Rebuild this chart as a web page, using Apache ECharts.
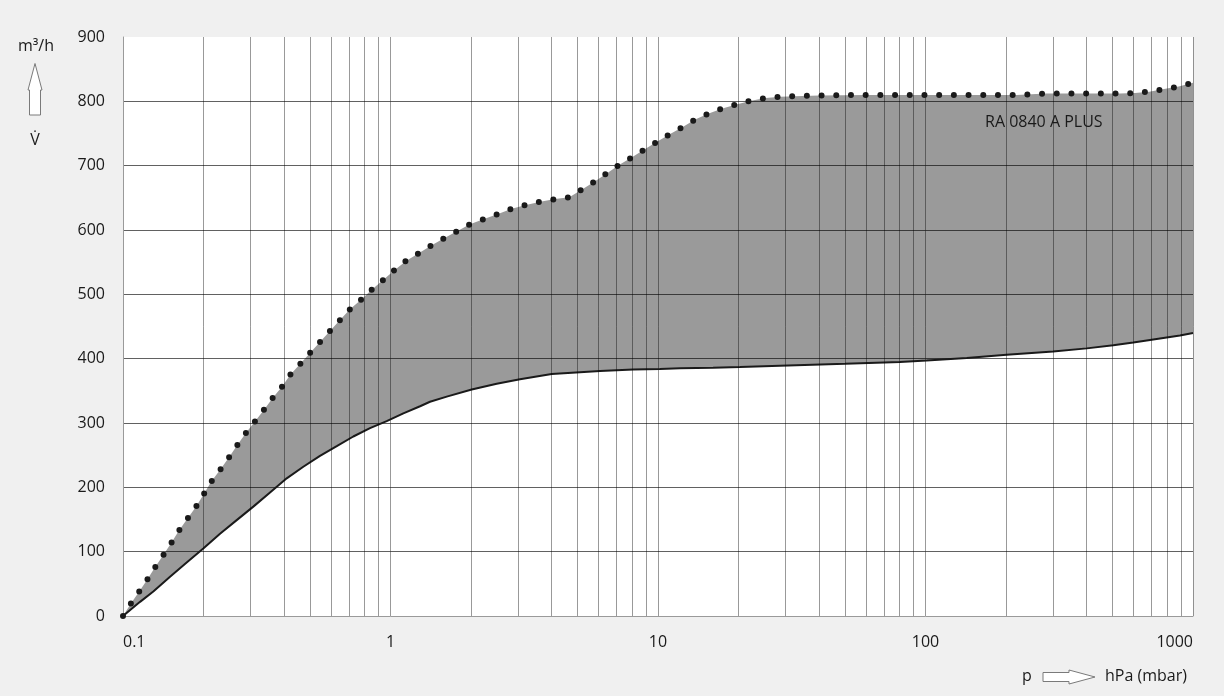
<!DOCTYPE html>
<html>
<head>
<meta charset="utf-8">
<script src="https://cdn.jsdelivr.net/npm/echarts@6/dist/echarts.min.js"></script>
<style>
html,body{margin:0;padding:0;background:#f0f0f0;}
#c{width:1224px;height:696px;}
</style>
</head>
<body>
<div id="c"></div>
<script>
// ---- data ----
const upperX = [0.1, 0.1069, 0.1145, 0.1226, 0.1314, 0.1411, 0.1512, 0.162, 0.174, 0.1875, 0.2008, 0.2139, 0.2305, 0.2484, 0.2668, 0.2875, 0.3107, 0.3357, 0.3627, 0.3921, 0.4221, 0.4601, 0.5003, 0.545, 0.594, 0.6476, 0.7058, 0.7738, 0.855, 0.943, 1.037, 1.143, 1.275, 1.421, 1.585, 1.773, 1.982, 2.236, 2.523, 2.839, 3.21, 3.631, 4.121, 4.661, 5.199, 5.781, 6.43, 7.149, 7.995, 8.889, 9.915, 11.06, 12.37, 13.83, 15.47, 17.4, 19.62, 22.27, 25.27, 28.66, 32.52, 40, 60, 90, 150, 219, 249, 282, 533, 607, 686, 779, 884, 1000];
const upperY = [0, 19, 37, 55, 75, 94, 113, 133, 151, 170, 190, 209, 227, 246, 265, 284, 302, 320, 339, 356, 375, 392, 409, 426, 443, 460, 477, 491, 508, 523, 538, 552, 564, 576, 587, 598, 609, 617, 625, 633, 639, 644, 648, 651, 663, 675, 688, 701, 713, 725, 737, 749, 760, 772, 781, 789, 795, 801, 805, 807, 808, 809, 810, 810, 810, 810, 811, 812, 812, 813, 815, 819, 823, 829];
const lowerX = [0.1, 0.1158, 0.1298, 0.1499, 0.173, 0.1996, 0.2305, 0.2661, 0.307, 0.3545, 0.4093, 0.4721, 0.545, 0.6297, 0.7261, 0.8383, 0.9679, 1.117, 1.29, 1.405, 1.623, 2.012, 2.495, 3.049, 4.005, 5.11, 6.07, 8.085, 10.17, 12.09, 16.06, 20.25, 28.58, 50, 80.3, 101, 142.6, 201, 300, 400.6, 503.5, 598, 691, 797, 894, 1000];
const lowerY = [0, 22, 38, 61, 83, 105, 128, 149, 170, 192, 214, 232, 249, 264, 279, 292, 303, 315, 326, 333, 341, 352, 361, 368, 376, 379, 381, 383, 384, 385, 386, 387, 389, 392, 395, 397, 401, 406, 411, 416, 421, 425, 429, 433, 436, 440];
const xTickLabels = ['0.1', '1', '10', '100', '1000'];
const minorGridX = [0.2, 0.3, 0.4, 0.5, 0.6, 0.7, 0.8, 0.9, 2, 3, 4, 5, 6, 7, 8, 9, 20, 30, 40, 50, 60, 70, 80, 90, 200, 300, 400, 500, 600, 700, 800, 900];
const yMin = 0, yMax = 900, yStep = 100;
const seriesName = 'RA 0840 A PLUS';

const upperPts = upperX.map((x, i) => [x, upperY[i]]);
const lowerPts = lowerX.map((x, i) => [x, lowerY[i]]);

const FONT = '"Open Sans", "Noto Sans", sans-serif';
const TXT = '#1a1a1a';

const chart = echarts.init(document.getElementById('c'), null, {renderer: 'canvas'});
chart.setOption({
  backgroundColor: '#f0f0f0',
  animation: false,
  textStyle: {fontFamily: FONT},
  grid: {left: 123, right: 31, top: 37, bottom: 80, show: true, backgroundColor: '#ffffff', borderWidth: 0},
  xAxis: {
    type: 'log', logBase: 10, min: 0.1, max: 1000, z: 3,
    axisLine: {show: true, lineStyle: {color: '#9a9a9a', width: 1}},
    axisTick: {show: false},
    splitLine: {show: true, lineStyle: {color: 'rgba(0,0,0,0.4)', width: 1}},
    axisLabel: {
      color: TXT, fontSize: 16, fontFamily: FONT, margin: 18,
      alignMinLabel: 'left', alignMaxLabel: 'right',
      formatter: v => xTickLabels[Math.round(Math.log10(v)) + 1] || ''
    }
  },
  yAxis: {
    type: 'value', min: yMin, max: yMax, interval: yStep, z: 3,
    axisLine: {show: true, lineStyle: {color: '#9a9a9a', width: 1}},
    axisTick: {show: false},
    splitLine: {show: true, showMinLine: false, showMaxLine: false, lineStyle: {color: 'rgba(0,0,0,0.62)', width: 1}},
    axisLabel: {color: TXT, fontSize: 16, fontFamily: FONT, margin: 18}
  },
  series: [
    {
      name: seriesName + ' max', type: 'line', data: upperPts, showSymbol: false, silent: true, z: 1,
      lineStyle: {width: 0, opacity: 0},
      areaStyle: {color: '#9a9a9a', opacity: 1, origin: 'start'}
    },
    {
      name: seriesName + ' min area', type: 'line', data: lowerPts, showSymbol: false, silent: true, z: 2,
      lineStyle: {width: 0, opacity: 0},
      areaStyle: {color: '#ffffff', opacity: 1, origin: 'start'}
    },
    {
      name: 'grid', type: 'line', data: lowerPts, showSymbol: false, silent: true, z: 3,
      lineStyle: {width: 0, opacity: 0},
      markLine: {
        silent: true, symbol: ['none', 'none'], label: {show: false},
        lineStyle: {color: 'rgba(0,0,0,0.4)', type: 'solid', width: 1},
        emphasis: {disabled: true},
        data: minorGridX.map(v => ({xAxis: v}))
      }
    },
    {
      name: seriesName, type: 'line', data: upperPts, showSymbol: false, silent: true, z: 4,
      lineStyle: {color: TXT, width: 6, type: [0, 14.7], cap: 'round'}
    },
    {
      name: seriesName + ' min', type: 'line', data: lowerPts, showSymbol: false, silent: true, z: 4,
      lineStyle: {color: TXT, width: 2}
    }
  ],
  graphic: [
    {type: 'text', x: 36, y: 46, z: 10, style: {text: 'm³/h', fill: TXT, font: '16px ' + FONT, align: 'center', verticalAlign: 'middle'}},
    {type: 'polygon', z: 10, shape: {points: [[35, 63.5], [42, 90], [40.5, 90], [40.5, 115], [29.5, 115], [29.5, 90], [28, 90]]},
      style: {fill: '#ffffff', stroke: '#7a7a7a', lineWidth: 1}},
    {type: 'text', x: 35, y: 140, z: 10, style: {text: 'V\u0307', fill: TXT, font: '16px ' + FONT, align: 'center', verticalAlign: 'middle'}},
    {type: 'text', x: 1027, y: 676, z: 10, style: {text: 'p', fill: TXT, font: '16px ' + FONT, align: 'center', verticalAlign: 'middle'}},
    {type: 'polygon', z: 10, shape: {points: [[1043, 672.5], [1069, 672.5], [1069, 670], [1095, 677], [1069, 684], [1069, 681.5], [1043, 681.5]]},
      style: {fill: '#ffffff', stroke: '#7a7a7a', lineWidth: 1}},
    {type: 'text', x: 1105, y: 676, z: 10, style: {text: 'hPa (mbar)', fill: TXT, font: '16px ' + FONT, align: 'left', verticalAlign: 'middle'}},
    {type: 'text', x: 985, y: 122, z: 10, style: {text: seriesName, fill: TXT, font: '16px ' + FONT, align: 'left', verticalAlign: 'middle'}}
  ]
});
</script>
</body>
</html>
